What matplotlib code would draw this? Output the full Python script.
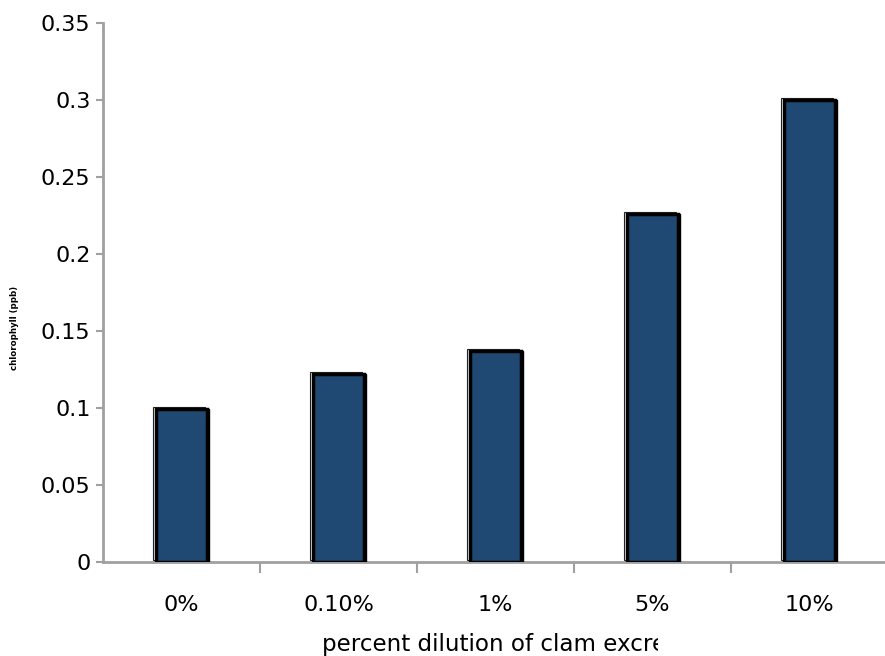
import numpy as np
import matplotlib
matplotlib.use("Agg")
import matplotlib.pyplot as plt
import matplotlib.transforms as mtransforms
from matplotlib.transforms import Bbox

# values
dilutions = ["0%", "0.10%", "1%", "5%", "10%"]
chlorophyll = [0.099, 0.122, 0.137, 0.226, 0.300]

W, H, DPI = 885, 656, 100
fig = plt.figure(figsize=(W / DPI, H / DPI), dpi=DPI)
ax = fig.add_axes([103 / W, 94 / H, 785 / W, (562 - 22.7) / H])

x = np.arange(len(dilutions))
bw = 0.33

# thin ghost outline (up-left), black shadow (right), then blue bar
ghost = ax.bar(x, chlorophyll, bw, facecolor="white", edgecolor="#222222", linewidth=0.8, zorder=2)
for b in ghost:
    b.set_transform(mtransforms.offset_copy(ax.transData, fig, x=-2.5, y=2, units="dots"))
shadow = ax.bar(x, chlorophyll, bw, facecolor="black", edgecolor="black", linewidth=1, zorder=3)
for b in shadow:
    b.set_transform(mtransforms.offset_copy(ax.transData, fig, x=2, y=0, units="dots"))
ax.bar(x, chlorophyll, bw, facecolor="#1F4872", edgecolor="black", linewidth=2.5, zorder=4)

ax.set_xlim(-0.5, len(dilutions) - 0.5)
ax.set_ylim(0, 0.35)
ax.set_yticks(np.arange(0, 0.351, 0.05))
ax.set_yticklabels(["0", "0.05", "0.1", "0.15", "0.2", "0.25", "0.3", "0.35"])

ax.set_xticks(np.arange(0.5, len(dilutions) - 0.5, 1))
ax.set_xticklabels([])
ax.set_xticks(x, minor=True)
ax.set_xticklabels(dilutions, minor=True)

for s in ["top", "right"]:
    ax.spines[s].set_visible(False)
for s in ["left", "bottom"]:
    ax.spines[s].set_color("#A0A0A0")
    ax.spines[s].set_linewidth(2)

ax.tick_params(axis="y", direction="out", length=5, width=1.5, color="#A0A0A0",
               labelsize=16, pad=4)
ax.tick_params(axis="x", which="major", direction="out", length=8, width=1.5, color="#A0A0A0")
ax.tick_params(axis="x", which="minor", length=0, labelsize=16, pad=24)

fig.text(15 / W, (H - 328) / H, "chlorophyll (ppb)", rotation=90, fontsize=6.2,
         fontweight="bold", ha="center", va="center")

xl = fig.text(322 / W, (H - 645) / H, "percent dilution of clam excretion",
              fontsize=16.6, ha="left", va="center")
xl.set_clip_box(Bbox.from_extents(0, 0, 658, H))
xl.set_clip_on(True)

fig.savefig("out.png", dpi=DPI)
